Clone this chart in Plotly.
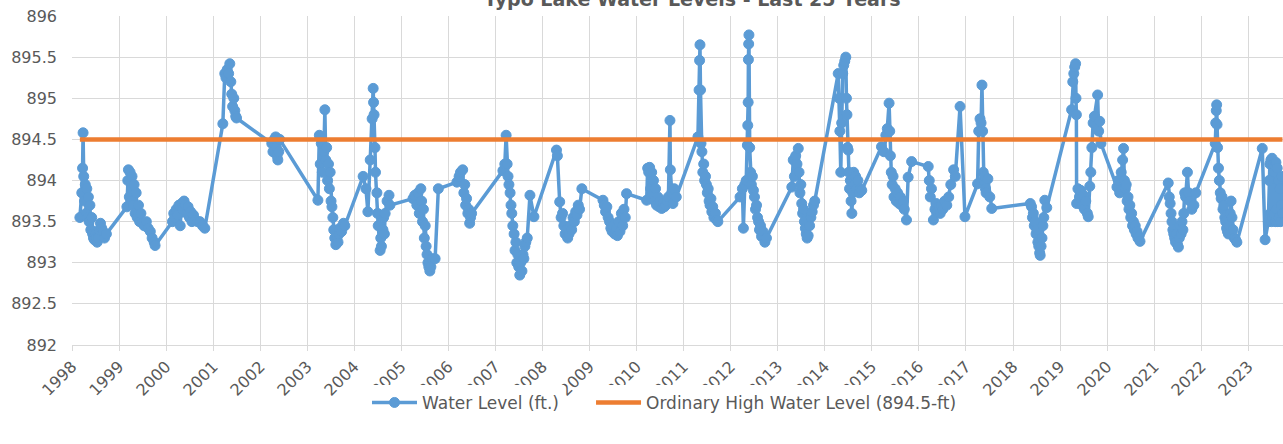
import plotly.graph_objects as go

# Water level readings (ft.), one line per year
dates = [
    "1998-03-03", "1998-03-18", "1998-03-24", "1998-03-28", "1998-04-02", "1998-04-08", "1998-04-14", "1998-04-20", "1998-04-26", "1998-05-02", "1998-05-08", "1998-05-14", "1998-05-20", "1998-05-27", "1998-06-03", "1998-06-10", "1998-06-17", "1998-06-24", "1998-07-01", "1998-07-08", "1998-07-15", "1998-07-22", "1998-08-01", "1998-08-10", "1998-08-20", "1998-08-30", "1998-09-10", "1998-09-25",
    "1999-03-03", "1999-03-10", "1999-03-15", "1999-03-22", "1999-03-28", "1999-04-05", "1999-04-12", "1999-04-20", "1999-04-28", "1999-05-06", "1999-05-14", "1999-05-22", "1999-06-01", "1999-06-10", "1999-06-20", "1999-06-30", "1999-07-15", "1999-08-01", "1999-08-15", "1999-09-01", "1999-09-15", "1999-10-01", "1999-10-08",
    "2000-02-20", "2000-03-01", "2000-03-10", "2000-03-20", "2000-04-01", "2000-04-10", "2000-04-20", "2000-05-01", "2000-05-10", "2000-05-20", "2000-06-01", "2000-06-10", "2000-06-20", "2000-07-01", "2000-07-10", "2000-07-20", "2000-08-01", "2000-08-15", "2000-09-01", "2000-09-20", "2000-10-10", "2000-10-28",
    "2001-03-17", "2001-04-01", "2001-04-10", "2001-04-20", "2001-05-01", "2001-05-10", "2001-05-18", "2001-05-25", "2001-06-01", "2001-06-10", "2001-06-18", "2001-06-25", "2001-07-01",
    "2002-04-01", "2002-04-10", "2002-04-20", "2002-05-01", "2002-05-07", "2002-05-12", "2002-05-18", "2002-05-25", "2002-06-01",
    "2003-03-25", "2003-04-05", "2003-04-12", "2003-04-20", "2003-04-28", "2003-05-10", "2003-05-18", "2003-05-25", "2003-06-01", "2003-06-08", "2003-06-15", "2003-06-22", "2003-06-28", "2003-07-05", "2003-07-12", "2003-07-19", "2003-07-26", "2003-08-03", "2003-08-11", "2003-08-20", "2003-08-28", "2003-09-05", "2003-09-12", "2003-09-25", "2003-10-10", "2003-10-20",
    "2004-03-10", "2004-04-01", "2004-04-16", "2004-05-04", "2004-05-19", "2004-05-27", "2004-05-30", "2004-06-03", "2004-06-10", "2004-06-14", "2004-06-25", "2004-06-30", "2004-07-05", "2004-07-20", "2004-07-25", "2004-07-30", "2004-08-11", "2004-08-16", "2004-08-22", "2004-08-28", "2004-09-12", "2004-09-27", "2004-10-04",
    "2005-04-01", "2005-04-15", "2005-05-01", "2005-05-10", "2005-05-20", "2005-06-01", "2005-06-07", "2005-06-14", "2005-06-21", "2005-06-28", "2005-07-05", "2005-07-12", "2005-07-19", "2005-07-26", "2005-08-02", "2005-08-10", "2005-08-18", "2005-08-28", "2005-09-20", "2005-10-15",
    "2006-03-08", "2006-03-25", "2006-04-05", "2006-04-22", "2006-05-01", "2006-05-08", "2006-05-15", "2006-05-22", "2006-06-01", "2006-06-08", "2006-06-15", "2006-06-22", "2006-06-30",
    "2007-02-28", "2007-03-15", "2007-03-25", "2007-04-02", "2007-04-09", "2007-04-16", "2007-04-25", "2007-05-02", "2007-05-08", "2007-05-16", "2007-05-26", "2007-06-02", "2007-06-09", "2007-06-16", "2007-06-24", "2007-07-01", "2007-07-09", "2007-07-16", "2007-07-26", "2007-08-03", "2007-08-10", "2007-08-18", "2007-08-25", "2007-09-05", "2007-09-26", "2007-10-27",
    "2008-04-19", "2008-04-26", "2008-05-14", "2008-05-25", "2008-06-05", "2008-06-15", "2008-06-25", "2008-07-05", "2008-07-15", "2008-07-25", "2008-08-05", "2008-08-15", "2008-08-25", "2008-09-05", "2008-09-15", "2008-09-25", "2008-10-05", "2008-10-15", "2008-11-02",
    "2009-04-15", "2009-04-25", "2009-05-05", "2009-05-15", "2009-05-25", "2009-06-05", "2009-06-15", "2009-06-25", "2009-07-05", "2009-07-15", "2009-07-25", "2009-08-05", "2009-08-15", "2009-08-25", "2009-09-05", "2009-09-15", "2009-09-25", "2009-10-05", "2009-10-15",
    "2010-03-20", "2010-03-28", "2010-04-05", "2010-04-12", "2010-04-20", "2010-04-28", "2010-05-05", "2010-05-12", "2010-05-20", "2010-05-28", "2010-06-05", "2010-06-15", "2010-06-25", "2010-07-05", "2010-07-15", "2010-07-25", "2010-08-05", "2010-08-15", "2010-08-25", "2010-09-05", "2010-09-17", "2010-09-20", "2010-10-01", "2010-10-10", "2010-10-20", "2010-11-05",
    "2011-04-22", "2011-05-01", "2011-05-05", "2011-05-08", "2011-05-12", "2011-05-16", "2011-05-23", "2011-05-30", "2011-06-06", "2011-06-13", "2011-06-20", "2011-06-27", "2011-07-04", "2011-07-11", "2011-07-18", "2011-07-25", "2011-08-01", "2011-08-08", "2011-08-15", "2011-08-24", "2011-09-05", "2011-09-15", "2011-09-24",
    "2012-03-14", "2012-04-01", "2012-04-09", "2012-04-20", "2012-05-01", "2012-05-10", "2012-05-13", "2012-05-16", "2012-05-18", "2012-05-20", "2012-05-22", "2012-05-28", "2012-06-04", "2012-06-10", "2012-06-18", "2012-06-26", "2012-07-04", "2012-07-12", "2012-07-20", "2012-07-28", "2012-08-05", "2012-08-12", "2012-08-20", "2012-08-28", "2012-09-08", "2012-09-23", "2012-10-05",
    "2013-04-20", "2013-05-01", "2013-05-10", "2013-05-20", "2013-05-30", "2013-06-09", "2013-06-15", "2013-06-22", "2013-06-29", "2013-07-06", "2013-07-13", "2013-07-20", "2013-07-27", "2013-08-03", "2013-08-10", "2013-08-17", "2013-08-25", "2013-09-05", "2013-09-15", "2013-09-25", "2013-10-05", "2013-10-15",
    "2014-04-15", "2014-04-22", "2014-04-28", "2014-05-05", "2014-05-12", "2014-05-20", "2014-05-28", "2014-06-05", "2014-06-13", "2014-06-18", "2014-06-22", "2014-06-26", "2014-07-01", "2014-07-06", "2014-07-12", "2014-07-18", "2014-07-24", "2014-07-30", "2014-08-06", "2014-08-13", "2014-08-20", "2014-08-28", "2014-09-05", "2014-09-15", "2014-09-25", "2014-10-05", "2014-10-15",
    "2015-03-17", "2015-04-05", "2015-04-20", "2015-05-01", "2015-05-15", "2015-05-20", "2015-05-25", "2015-06-01", "2015-06-08", "2015-06-15", "2015-06-22", "2015-07-01", "2015-07-10", "2015-07-20", "2015-08-01", "2015-08-10", "2015-08-20", "2015-09-01", "2015-09-10", "2015-09-27", "2015-10-10", "2015-11-06",
    "2016-03-14", "2016-03-22", "2016-03-30", "2016-04-08", "2016-04-23", "2016-05-05", "2016-05-15", "2016-05-25", "2016-06-05", "2016-06-15", "2016-06-25", "2016-07-05", "2016-07-20", "2016-08-05", "2016-08-20", "2016-09-05", "2016-09-27", "2016-10-10", "2016-11-16", "2016-12-24",
    "2017-04-01", "2017-04-10", "2017-04-20", "2017-04-28", "2017-05-05", "2017-05-10", "2017-05-15", "2017-05-20", "2017-05-25", "2017-06-01", "2017-06-06", "2017-06-20", "2017-07-05", "2017-07-20",
    "2018-05-15", "2018-05-25", "2018-06-01", "2018-06-08", "2018-06-15", "2018-06-22", "2018-06-29", "2018-07-06", "2018-07-13", "2018-07-20", "2018-07-27", "2018-07-31", "2018-08-07", "2018-08-14", "2018-08-21", "2018-08-28", "2018-09-05", "2018-09-20",
    "2019-04-01", "2019-04-10", "2019-04-18", "2019-04-25", "2019-05-02", "2019-05-05", "2019-05-08", "2019-05-10", "2019-05-20", "2019-06-01", "2019-06-10", "2019-06-20", "2019-07-01", "2019-07-10", "2019-07-20", "2019-08-01", "2019-08-08", "2019-08-20", "2019-08-28", "2019-09-05", "2019-09-15", "2019-09-25", "2019-10-20", "2019-10-28", "2019-11-05", "2019-11-15",
    "2020-03-18", "2020-03-28", "2020-04-08", "2020-04-20", "2020-05-01", "2020-05-08", "2020-05-15", "2020-05-22", "2020-05-29", "2020-06-05", "2020-06-12", "2020-06-19", "2020-06-26", "2020-07-03", "2020-07-10", "2020-07-17", "2020-07-24", "2020-07-31", "2020-08-07", "2020-08-14", "2020-08-21", "2020-08-28", "2020-09-05", "2020-09-13",
    "2021-04-20", "2021-04-28", "2021-05-05", "2021-05-12", "2021-05-19", "2021-05-26", "2021-06-02", "2021-06-09", "2021-06-16", "2021-06-23", "2021-07-01", "2021-07-08", "2021-07-15", "2021-07-22", "2021-07-29", "2021-08-05", "2021-08-12", "2021-08-19", "2021-08-26", "2021-09-02", "2021-09-16", "2021-09-25", "2021-10-05", "2021-10-20", "2021-11-05", "2021-11-20",
    "2022-04-20", "2022-04-24", "2022-04-28", "2022-05-01", "2022-05-04", "2022-05-08", "2022-05-15", "2022-05-22", "2022-05-29", "2022-06-05", "2022-06-12", "2022-06-19", "2022-06-26", "2022-07-03", "2022-07-10", "2022-07-17", "2022-07-24", "2022-07-31", "2022-08-07", "2022-08-14", "2022-08-21", "2022-08-28", "2022-09-05", "2022-09-15", "2022-09-25", "2022-10-05",
    "2023-04-20", "2023-05-12", "2023-06-06", "2023-06-12", "2023-06-18", "2023-06-22", "2023-06-26", "2023-07-01", "2023-07-05", "2023-07-10", "2023-07-15", "2023-07-20", "2023-07-25", "2023-07-30", "2023-08-04", "2023-08-09", "2023-08-14", "2023-08-19", "2023-08-24", "2023-08-29", "2023-09-03", "2023-09-08", "2023-09-13", "2023-09-18", "2023-09-24",
]

levels = [
    893.55, 893.85, 894.15, 894.58, 894.05, 893.75, 893.95, 893.6, 893.9, 893.55, 893.8, 893.5, 893.7, 893.4, 893.55, 893.35, 893.3, 893.28, 893.35, 893.3, 893.25, 893.3, 893.4, 893.48, 893.42, 893.38, 893.3, 893.35,
    893.68, 894.0, 894.13, 893.8, 894.1, 893.75, 894.05, 893.7, 893.95, 893.6, 893.85, 893.55, 893.7, 893.5, 893.6, 893.48, 893.45, 893.5, 893.42, 893.38, 893.3, 893.25, 893.21,
    893.5, 893.6, 893.55, 893.65, 893.58, 893.7, 893.45, 893.72, 893.65, 893.75, 893.7, 893.6, 893.68, 893.55, 893.62, 893.5, 893.58, 893.52, 893.5, 893.5, 893.45, 893.42,
    894.69, 895.3, 895.25, 895.35, 895.3, 895.42, 895.2, 895.05, 894.9, 895.0, 894.85, 894.78, 894.76,
    894.45, 894.35, 894.5, 894.53, 894.4, 894.3, 894.25, 894.35, 894.5,
    893.76, 894.55, 894.2, 894.45, 894.1, 894.35, 894.86, 894.25, 894.4, 894.0, 894.2, 893.9, 894.1, 893.75, 893.68, 893.55, 893.4, 893.3, 893.22, 893.3, 893.25, 893.35, 893.42, 893.38, 893.48, 893.45,
    894.05, 893.9, 893.62, 894.25, 894.75, 895.12, 894.95, 894.8, 894.4, 894.1, 893.85, 893.6, 893.45, 893.15, 893.3, 893.2, 893.4, 893.55, 893.35, 893.6, 893.75, 893.82, 893.7,
    893.78, 893.82, 893.7, 893.85, 893.6, 893.9, 893.75, 893.5, 893.65, 893.3, 893.45, 893.2, 893.1, 893.0, 892.95, 892.9, 892.95, 893.05, 893.05, 893.9,
    893.98, 894.05, 894.1, 894.13, 893.85, 893.95, 893.7, 893.78, 893.6, 893.65, 893.48, 893.55, 893.6,
    894.12, 894.2, 894.55, 894.2, 894.05, 893.95, 893.85, 893.7, 893.6, 893.45, 893.35, 893.15, 893.25, 893.0, 893.1, 892.95, 892.85, 893.0, 892.9, 893.1, 893.05, 893.2, 893.25, 893.3, 893.82, 893.56,
    894.37, 894.3, 893.74, 893.55, 893.6, 893.45, 893.35, 893.4, 893.3, 893.35, 893.45, 893.4, 893.55, 893.5, 893.62, 893.58, 893.7, 893.65, 893.9,
    893.76, 893.7, 893.62, 893.68, 893.55, 893.5, 893.42, 893.38, 893.45, 893.35, 893.4, 893.33, 893.5, 893.38, 893.6, 893.45, 893.65, 893.55, 893.84,
    893.76, 894.15, 894.1, 894.16, 893.9, 894.1, 893.85, 894.0, 893.75, 893.9, 893.7, 893.8, 893.68, 893.75, 893.66, 893.72, 893.68, 893.7, 893.75, 893.8, 894.73, 894.13, 893.85, 893.72, 893.9, 893.8,
    894.53, 895.1, 895.46, 895.65, 895.1, 894.45, 894.35, 894.1, 894.2, 894.0, 894.05, 893.95, 893.85, 893.9, 893.75, 893.7, 893.78, 893.62, 893.68, 893.55, 893.6, 893.52, 893.5,
    893.8, 893.9, 893.42, 893.95, 894.0, 894.43, 894.67, 894.95, 895.47, 895.66, 895.77, 894.4, 894.1, 893.95, 894.05, 893.88, 893.8, 893.65, 893.7, 893.55, 893.5, 893.4, 893.45, 893.32, 893.38, 893.25, 893.3,
    893.92, 894.25, 894.05, 894.3, 894.2, 894.39, 894.1, 893.85, 893.95, 893.72, 893.6, 893.65, 893.5, 893.42, 893.35, 893.3, 893.33, 893.45, 893.55, 893.62, 893.7, 893.75,
    895.3, 895.0, 894.6, 894.1, 894.7, 895.3, 895.4, 895.45, 895.5, 895.0, 894.8, 894.4, 894.37, 894.1, 893.9, 894.0, 893.75, 893.6, 893.85, 894.1, 893.95, 894.05, 893.9, 894.0, 893.85, 893.9, 893.88,
    894.41, 894.35, 894.55, 894.63, 894.94, 894.6, 894.3, 894.1, 893.95, 894.05, 893.8, 893.9, 893.75, 893.85, 893.72, 893.8, 893.7, 893.75, 893.65, 893.52, 894.04, 894.23,
    894.17, 894.0, 893.8, 893.9, 893.52, 893.65, 893.72, 893.62, 893.68, 893.6, 893.7, 893.65, 893.75, 893.7, 893.8, 893.95, 894.13, 894.05, 894.9, 893.56,
    893.96, 894.6, 894.75, 894.7, 895.16, 894.6, 894.1, 894.0, 894.05, 893.9, 893.85, 894.02, 893.8, 893.66,
    893.72, 893.68, 893.55, 893.6, 893.45, 893.5, 893.35, 893.4, 893.25, 893.2, 893.12, 893.09, 893.2, 893.3, 893.45, 893.55, 893.76, 893.67,
    894.86, 895.2, 895.3, 895.38, 895.42, 895.0, 894.8, 893.72, 893.9, 893.8, 893.88, 893.7, 893.82, 893.65, 893.75, 893.6, 893.56, 893.93, 894.1, 894.4, 894.7, 894.78, 895.04, 894.6, 894.72, 894.45,
    893.92, 894.0, 893.85, 894.1, 894.25, 894.39, 894.0, 893.9, 893.95, 893.75, 893.8, 893.65, 893.7, 893.55, 893.6, 893.45, 893.5, 893.4, 893.45, 893.35, 893.38, 893.3, 893.32, 893.26,
    893.97, 893.8, 893.72, 893.6, 893.5, 893.4, 893.35, 893.3, 893.25, 893.35, 893.22, 893.19, 893.3, 893.45, 893.35, 893.5, 893.4, 893.6, 893.85, 893.8, 894.1, 893.85, 893.75, 893.65, 893.7, 893.85,
    894.45, 894.7, 894.85, 894.92, 894.68, 894.4, 894.15, 894.0, 893.85, 893.78, 893.8, 893.65, 893.7, 893.55, 893.5, 893.42, 893.38, 893.35, 893.45, 893.6, 893.75, 893.55, 893.4, 893.3, 893.28, 893.25,
    894.39, 893.28, 893.5, 894.0, 894.2, 893.6, 894.25, 893.5, 894.27, 893.55, 894.2, 893.6, 894.1, 893.5, 894.22, 893.65, 894.15, 893.5, 894.0, 893.55, 893.9, 893.5, 893.7, 894.05, 893.6,
]

# Ordinary high water level reference line
ohw_dates = ["1998-03-03", "2023-09-24"]
ohw_levels = [894.5, 894.5]

y_ticks = [892, 892.5, 893, 893.5, 894, 894.5, 895, 895.5, 896]
y_labels = ["892", "892.5", "893", "893.5", "894", "894.5", "895", "895.5", "896"]

assert len(dates) == len(levels)

grey = "#595959"
grid = "#d9d9d9"

fig = go.Figure()

fig.add_trace(go.Scatter(
    x=dates,
    y=levels,
    mode='lines+markers',
    name='Water Level (ft.)',
    legend='legend',
    line=dict(color="#5B9BD5", width=3.5),
    marker=dict(color="#5B9BD5", size=10, line=dict(color="#5B9BD5", width=1))
))

fig.add_trace(go.Scatter(
    x=ohw_dates,
    y=ohw_levels,
    mode='lines',
    name='Ordinary High Water Level (894.5-ft)',
    legend='legend2',
    line=dict(color="#ED7D31", width=4.5)
))

# each series gets its own legend box so the gap between the two entries matches
legend_style = dict(orientation='h', xanchor='left', y=-0.176, yanchor='middle',
                    itemwidth=45, font=dict(size=17, color=grey))

fig.update_layout(
    width=1283,
    height=444,
    margin=dict(l=72, r=0, t=16, b=99, autoexpand=False),
    paper_bgcolor="white",
    plot_bgcolor="white",
    font=dict(family="DejaVu Sans", size=16, color=grey),
    showlegend=True,
    legend=dict(x=0.2436, **legend_style),
    legend2=dict(x=0.4286, **legend_style),
    xaxis=dict(
        type='date',
        range=["1998-01-01", "2023-09-28"],
        tick0="1998-01-01",
        dtick="M12",
        tickformat="%Y",
        tickangle=-45,
        showgrid=True,
        gridcolor=grid,
        gridwidth=1,
        ticks='outside',
        ticklen=5,
        tickcolor=grid,
        showline=True,
        linecolor=grid,
        zeroline=False,
        automargin=False
    ),
    yaxis=dict(
        range=[892, 896],
        tickvals=y_ticks,
        ticktext=y_labels,
        showgrid=True,
        gridcolor=grid,
        gridwidth=1,
        zeroline=False,
        ticklabelstandoff=14,
        automargin=False
    ),
    annotations=[dict(
        text="<b>Typo Lake Water Levels - Last 25 Years</b>",
        xref='paper', yref='paper', x=0.512, y=1.051,
        xanchor='center', yanchor='middle', showarrow=False,
        font=dict(size=19, color=grey)
    )]
)

# drop the browser's default page margin so the figure sits at the window corner
fig.write_html("out.html", config={"displayModeBar": False},
               post_script="document.body.style.margin='0';")
